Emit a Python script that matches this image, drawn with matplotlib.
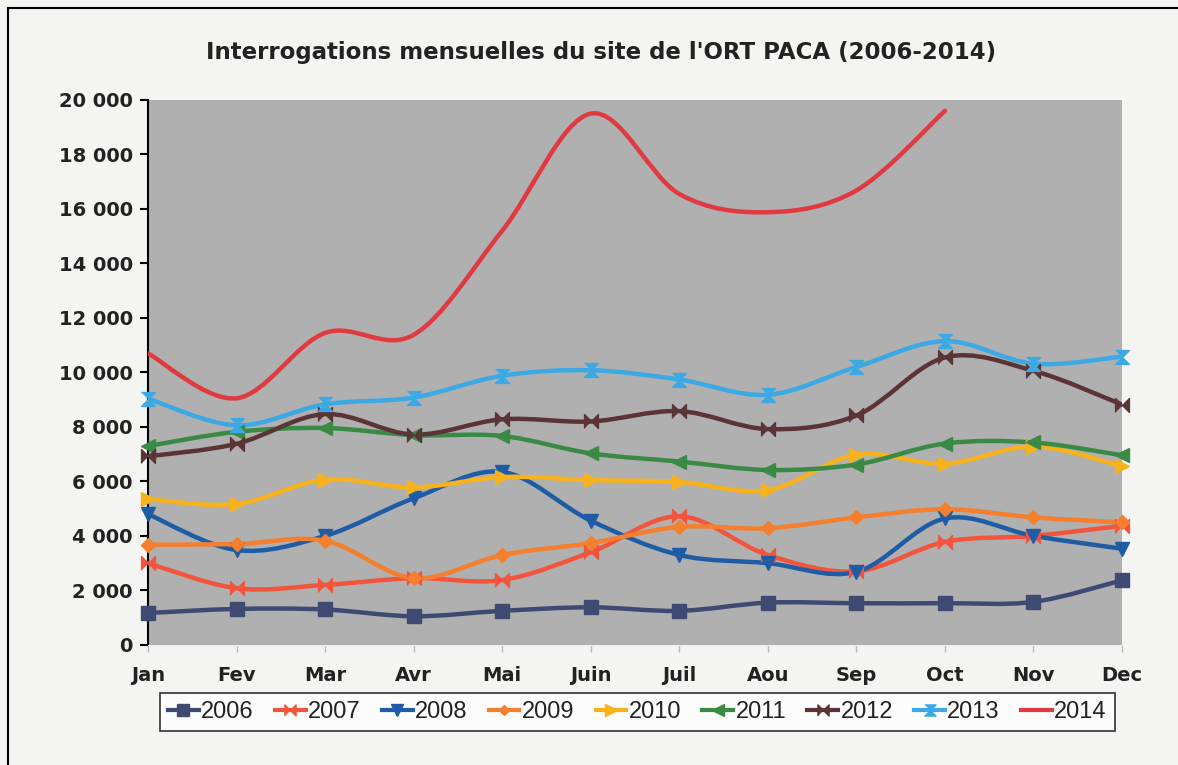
import numpy as np
import matplotlib.pyplot as plt
from matplotlib.path import Path
from matplotlib.patches import PathPatch, Rectangle
from matplotlib.lines import Line2D
from matplotlib.ticker import FuncFormatter

plt.rcParams['font.family'] = ['Liberation Sans', 'DejaVu Sans']

months = ["Jan", "Fev", "Mar", "Avr", "Mai", "Juin", "Juil", "Aou", "Sep", "Oct", "Nov", "Dec"]

y2006 = [1170, 1320, 1300, 1050, 1250, 1380, 1250, 1550, 1530, 1530, 1580, 2370]
y2007 = [3000, 2080, 2200, 2450, 2380, 3400, 4720, 3300, 2700, 3780, 4000, 4370]
y2008 = [4800, 3480, 4000, 5380, 6350, 4560, 3300, 3000, 2680, 4640, 4000, 3530]
y2009 = [3680, 3700, 3820, 2450, 3300, 3740, 4330, 4280, 4680, 4980, 4680, 4500]
y2010 = [5350, 5170, 6070, 5780, 6160, 6050, 5980, 5680, 6980, 6650, 7280, 6560]
y2011 = [7300, 7820, 7960, 7700, 7670, 7030, 6730, 6420, 6620, 7390, 7430, 6960]
y2012 = [6920, 7380, 8470, 7720, 8280, 8200, 8580, 7920, 8420, 10550, 10060, 8820]
y2013 = [9040, 8060, 8830, 9080, 9880, 10080, 9740, 9180, 10200, 11150, 10320, 10580]
y2014 = [10700, 9050, 11450, 11380, 15200, 19500, 16550, 15880, 16680, 19600]

years = ["2006", "2007", "2008", "2009", "2010", "2011", "2012", "2013", "2014"]
series = [y2006, y2007, y2008, y2009, y2010, y2011, y2012, y2013, y2014]
colors = ["#3E4A72", "#F2553C", "#1E5CA6", "#F57F2C", "#F8B21C",
          "#3A8A46", "#5B3436", "#3BA9E4", "#E03A40"]

bowtie = [(-1, -1), (-1, 1), (0, 0), (1, 1), (1, -1), (0, 0)]
hourglass = [(-1, 1), (1, 1), (0, 0), (1, -1), (-1, -1), (0, 0)]
markers = ["s", bowtie, "v", "D", ">", "<", bowtie, hourglass, None]
msizes = [10, 10, 10, 7, 10, 10, 10, 10, 0]


def smooth_path(xs, ys):
    # Catmull-Rom style Bezier segments, like spreadsheet "smoothed lines"
    pts = np.column_stack([xs, ys]).astype(float)
    n = len(pts)
    verts = [pts[0]]
    codes = [Path.MOVETO]
    for i in range(n - 1):
        p0 = pts[i - 1] if i > 0 else pts[i]
        p1 = pts[i]
        p2 = pts[i + 1]
        p3 = pts[i + 2] if i + 2 < n else pts[i + 1]
        c1 = p1 + (p2 - p0) / 6.0
        c2 = p2 - (p3 - p1) / 6.0
        verts += [c1, c2, p2]
        codes += [Path.CURVE4] * 3
    return Path(verts, codes)


fig = plt.figure(figsize=(11.78, 7.65), dpi=100)
fig.patch.set_facecolor("#F4F4F2")
fig.patches.append(Rectangle((0.007, -0.01), 1.1, 1.0, transform=fig.transFigure,
                             fill=False, edgecolor="black", linewidth=1.5))

ax = fig.add_axes([0.1256, 0.157, 0.8269, 0.7123])
ax.set_facecolor("#B0B0B0")

x = np.arange(len(months))
for name, ys, c, m, ms in zip(years, series, colors, markers, msizes):
    xs = x[:len(ys)]
    ax.add_patch(PathPatch(smooth_path(xs, ys), facecolor="none", edgecolor=c,
                           linewidth=3.2, capstyle="round", joinstyle="round", zorder=3))
    if m is not None:
        ax.plot(xs, ys, linestyle="none", marker=m, markersize=ms, color=c,
                markeredgecolor=c, clip_on=False, zorder=4)

ax.set_xlim(0, 11)
ax.set_ylim(0, 20000)
ax.set_yticks(np.arange(0, 20001, 2000))
ax.yaxis.set_major_formatter(FuncFormatter(lambda v, p: f"{int(v):,}".replace(",", " ")))
ax.set_xticks(x)
ax.set_xticklabels(months)

for lab in ax.get_xticklabels() + ax.get_yticklabels():
    lab.set_family("DejaVu Sans")
    lab.set_fontweight("bold")
    lab.set_fontsize(14)
    lab.set_color("#222222")

ax.tick_params(axis="y", length=6, width=1.5, pad=5)
ax.tick_params(axis="x", length=5, width=1, color="#BBBBBB", pad=10)
ax.spines["left"].set_linewidth(1.5)
ax.spines["bottom"].set_color("#EEEEEE")
ax.spines["top"].set_visible(False)
ax.spines["right"].set_visible(False)

fig.text(0.51, 0.932, "Interrogations mensuelles du site de l'ORT PACA (2006-2014)",
         ha="center", va="center", fontsize=16.5, fontweight="bold", color="#222222",
         family="DejaVu Sans")

handles = []
for name, c, m, ms in zip(years, colors, markers, msizes):
    handles.append(Line2D([0], [0], color=c, linewidth=3, marker=m,
                          markersize=ms * 0.8 if m is not None else 0, label=name))
leg = fig.legend(handles=handles, loc="center", bbox_to_anchor=(0.541, 0.069),
                 ncol=9, frameon=True, handlelength=1.3,
                 handletextpad=0.1, columnspacing=0.9, borderpad=0.35,
                 fancybox=False, edgecolor="black",
                 prop={"family": "Liberation Sans", "size": 17})
for t in leg.get_texts():
    t.set_color("#222222")
leg.get_frame().set_linewidth(1.2)
leg.get_frame().set_facecolor("white")

fig.savefig("out.png", dpi=100, facecolor=fig.get_facecolor())
